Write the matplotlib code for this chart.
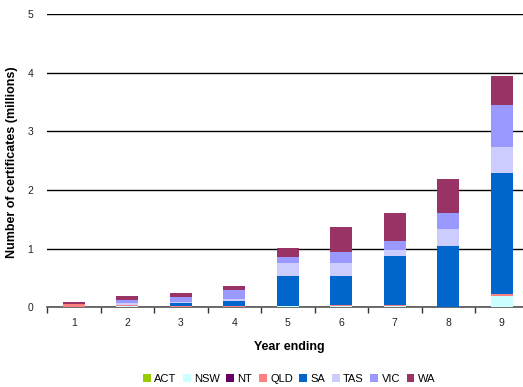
import matplotlib
matplotlib.use("Agg")
import matplotlib.pyplot as plt
from matplotlib.ticker import FixedLocator, NullFormatter
import numpy as np

plt.rcParams['font.family'] = ['Liberation Sans', 'DejaVu Sans']

years = ['1', '2', '3', '4', '5', '6', '7', '8', '9']
states = ['ACT', 'NSW', 'NT', 'QLD', 'SA', 'TAS', 'VIC', 'WA']

act = [0, 0, 0, 0, 0, 0, 0, 0, 0]
nsw = [0.003, 0.02, 0.005, 0.005, 0.02, 0.02, 0.02, 0.005, 0.20]
nt = [0, 0, 0, 0, 0, 0, 0, 0, 0]
qld = [0.045, 0.02, 0.02, 0.02, 0.005, 0.015, 0.015, 0.005, 0.03]
sa = [0.0, 0.005, 0.04, 0.085, 0.51, 0.495, 0.845, 1.04, 2.06]
tas = [0.005, 0.02, 0.03, 0.035, 0.22, 0.23, 0.10, 0.29, 0.44]
vic = [0.01, 0.06, 0.085, 0.15, 0.11, 0.19, 0.15, 0.27, 0.72]
wa = [0.035, 0.07, 0.07, 0.07, 0.14, 0.42, 0.47, 0.58, 0.49]

series = [act, nsw, nt, qld, sa, tas, vic, wa]
colors = ['#99CC00', '#CCFFFF', '#660066', '#FF8080', '#0066CC', '#CCCCFF', '#9999FF', '#993366']

W, H = 523, 387
fig = plt.figure(figsize=(W / 100, H / 100), dpi=100)
ax_left, ax_right, ax_top, ax_bottom = 47, 528.5, 14, 307.3
ax = fig.add_axes([ax_left / W, (H - ax_bottom) / H, (ax_right - ax_left) / W, (ax_bottom - ax_top) / H])

x = np.arange(1, len(years) + 1)
bottom = np.zeros(len(years))
for name, vals, col in zip(states, series, colors):
    v = np.array(vals, dtype=float)
    ax.bar(x, v, width=0.41, bottom=bottom, color=col, label=name, zorder=3, linewidth=0)
    bottom += v

ax.set_xlim(0.5, 9.5)
ax.set_ylim(0, 5)
ax.set_yticks([0, 1, 2, 3, 4, 5])
ax.yaxis.grid(True, color='black', linewidth=1.0, zorder=1)
ax.tick_params(axis='y', length=0, pad=10, labelsize=7.5, labelcolor='#222222')

ax.set_xticks(x)
ax.set_xticklabels(years)
ax.tick_params(axis='x', which='major', length=0, pad=8, labelsize=7.5, labelcolor='#222222')
ax.xaxis.set_minor_locator(FixedLocator(np.arange(0.5, 10, 1)))
ax.xaxis.set_minor_formatter(NullFormatter())
ax.tick_params(axis='x', which='minor', length=4, width=1, color='#333333', direction='out')

for s in ['top', 'right', 'left']:
    ax.spines[s].set_visible(False)
ax.spines['bottom'].set_color('#555555')
ax.spines['bottom'].set_linewidth(1.2)

ax.set_ylabel('Number of certificates (millions)', fontsize=9, fontweight='bold')
ax.yaxis.set_label_coords((18 - ax_left) / (ax_right - ax_left), 0.494)
ax.set_xlabel('Year ending', fontsize=9, fontweight='bold')
ax.xaxis.set_label_coords((289 - ax_left) / (ax_right - ax_left), -(347 - ax_bottom) / (ax_bottom - ax_top))
ax.xaxis.label.set_va('center')

fig.legend(loc='center', bbox_to_anchor=(289 / W, 1 - 379 / H), ncol=8, frameon=False,
           fontsize=8, handlelength=0.7, handleheight=0.7, handletextpad=0.3,
           columnspacing=0.6, borderaxespad=0)

fig.savefig('out.png', dpi=100)
